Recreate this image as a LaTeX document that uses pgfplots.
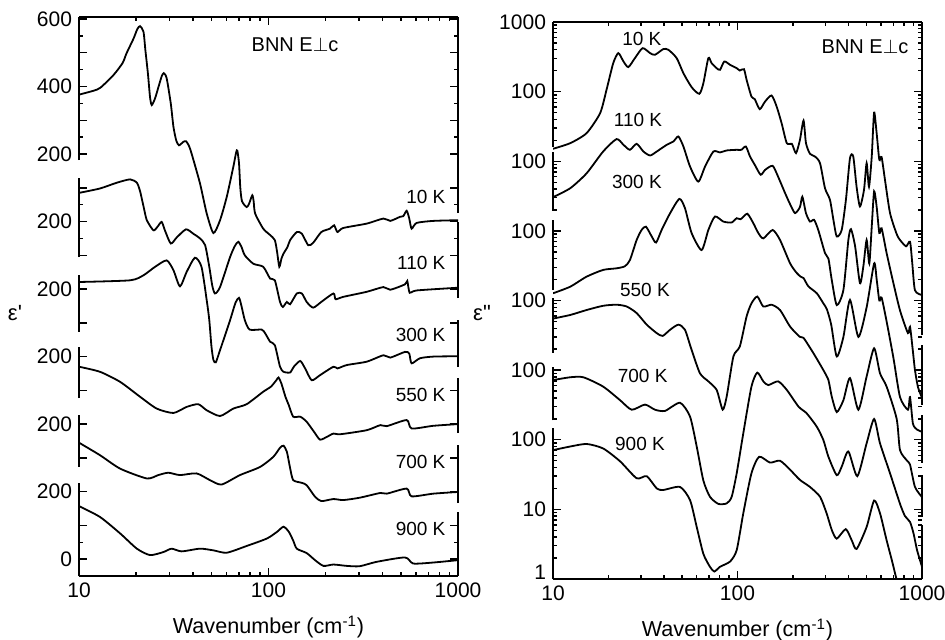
\documentclass[border=0pt]{standalone}
\usepackage{fontspec}
\setmainfont{Liberation Sans}
\usepackage{pgfplots}
\pgfplotsset{compat=1.18}
\newcommand{\vseg}[3]{\draw[line width=0.9pt] (axis cs:#1,#2) -- (axis cs:#1,#3);}
\newcommand{\hframe}{\draw[line width=0.9pt] (rel axis cs:0,0) -- (rel axis cs:1,0); \draw[line width=0.9pt] (rel axis cs:0,1) -- (rel axis cs:1,1);}
\begin{document}
\begin{tikzpicture}
\path[use as bounding box] (-39.5pt,-31.5pt) rectangle (433pt,288pt);
\pgfplotsset{
  every axis/.append style={
    scale only axis, xmode=log, xmin=10, xmax=1000,
    xtick={10,100,1000}, xticklabels={10,100,1000},
    minor xtick={20,30,40,50,60,70,80,90,200,300,400,500,600,700,800,900},
    major tick length=4pt, minor tick length=2pt,
    axis line style={draw=none},
    tick style={draw=black, line width=0.7pt},
    tick label style={font=\fontsize{10.5}{12}\selectfont},
    clip mode=individual,
    cycle list={{black}},
  },
  every axis plot/.append style={black, solid, mark=none, line width=0.9pt, smooth, tension=0.4},
}
% ---------------- left panel: eps' ----------------
\begin{axis}[at={(0pt,0pt)}, anchor=south west, width=189.5pt, height=279.5pt,
  ymin=-50, ymax=1606,
  ytick={0,100,...,1600}, yticklabels={0,,200,,200,,200,,200,,200,,200,,400,,600},
  minor ytick={50,950,1050,1250,1350,1450,1550}]
\hframe
\vseg{10}{1182}{1606}\vseg{10}{895}{1129}\vseg{10}{673}{841}\vseg{10}{477}{628}\vseg{10}{273}{427}\vseg{10}{-50}{225}
\vseg{1000}{1025}{1606}\vseg{1000}{773}{998}\vseg{1000}{569}{708}\vseg{1000}{373}{536}\vseg{1000}{166}{338}\vseg{1000}{-50}{139}
% 10 K (offset 1000)
\addplot table[y expr=\thisrowno{1}+1000] {
10 376
12 388
13 397
15.2 434
17 470
17.8 498
19.4 542
20.3 570
21 579
21.9 562
22.4 508
23.1 439
23.7 369
24.2 345
25.2 365
26.3 400
27.3 430
28 440
29 425
30.5 350
31.5 281
32.6 240
33.7 226
35.5 236
36.7 238
38 225
39.3 201
43.5 113
47.2 24
51.2 -34
55.5 4
60.2 73
65.2 162
67.5 205
68.5 210
69.9 172
71 100
72.5 60
76.7 43
79 53
82.1 78
83.5 60
85 24
93.8 -21
102 -40
108 -55
111 -90
114 -134
117 -110
120 -95
126 -75
130 -55
141 -31
150 -36
162 -70
172 -63
190 -31
211 -21
222 -11
231 -31
248 -19
330 -6
404 9
439 2
494 14
514 16
536 32
553 9
569 -21
605 -4
741 2
1000 4
};
% 110 K (offset 800)
\addplot table[y expr=\thisrowno{1}+800] {
10 285
12.9 298
15.8 315
18.6 325
20.2 315
21 290
22 240
22.8 204
24.7 174
25.9 184
27.3 199
28.4 174
30.5 135
32.8 153
36.7 177
40.1 164
43.5 150
46.3 130
48.7 66
50.5 10
52.2 -13
55.5 6
62.7 95
66.5 128
69.3 140
72 125
75 100
83.2 75
93.8 66
102 31
108 26
115 -38
119 -53
125 -38
130 -45
141 -13
150 -13
159 -38
172 -55
190 -38
220 -13
226 -30
248 -23
330 -8
404 6
439 -2
525 14
540 24
556 -11
605 -4
1000 4
};
% 300 K (offset 600)
\addplot table[y expr=\thisrowno{1}+600] {
10 221
18.6 226
21.9 241
25.2 266
29 285
31.5 256
34.1 208
37 251
40.9 293
44.3 266
47.2 167
48.7 108
50 30
51.2 -10
52.7 -17
55.5 19
62.7 108
67 160
69.9 174
72 150
75 108
79.5 80
92 80
96 69
102 44
108 34
115 -30
120 -45
130 -47
136 -30
147 -13
156 -35
169 -70
187 -55
220 -30
231 -35
259 -25
330 -15
404 4
439 -3
525 14
553 9
569 -20
629 -5
741 0
1000 1
};
% 550 K (offset 400)
\addplot table[y expr=\thisrowno{1}+400] {
10 170
12.9 155
16.5 125
21 81
25.7 46
31.5 33
37 51
42.6 59
47.2 41
55.5 24
65.2 46
76.7 59
93.8 96
103 111
110 130
113 138
117 120
123 80
128 56
135 22
147 22
159 7
175 -25
187 -46
203 -38
220 -28
239 -30
330 -18
389 -3
421 -6
536 12
569 -13
741 -5
1000 0
};
% 700 K (offset 200)
\addplot table[y expr=\thisrowno{1}+200] {
10 145
12.9 108
16.5 68
22.8 39
26.2 49
29.6 56
34.1 49
41.7 54
49.1 34
56.5 21
70.7 49
90.2 73
106 103
115 130
120 136
125 118
130 70
135 34
150 26
159 19
176 -15
190 -28
220 -22
248 -25
303 -18
389 -4
421 -6
536 9
569 -14
741 -6
1000 -1
};
% 900 K (offset 0)
\addplot table {
10 157
12.9 125
16.5 76
20.2 31
23.7 12
27.9 21
30.8 31
34.8 23
43.5 31
51.2 26
60.2 19
76.7 39
98 61
111 81
120 96
128 81
135 55
141 31
159 18
176 -3
195 -20
220 -16
259 -20
303 -21
372 -8
525 5
580 -13
741 -10
1000 -3
};
\begin{scope}[font=\fontsize{9.5}{11}\selectfont]
\node[anchor=east] at (axis cs:935,1073) {10 K};
\node[anchor=east] at (axis cs:935,877) {110 K};
\node[anchor=east] at (axis cs:935,664) {300 K};
\node[anchor=east] at (axis cs:935,486) {550 K};
\node[anchor=east] at (axis cs:935,287) {700 K};
\node[anchor=east] at (axis cs:935,89) {900 K};
\end{scope}
\node[font=\fontsize{10}{12}\selectfont] at (axis cs:138,1523) {BNN E$\perp$c};
\node[font=\fontsize{11}{13}\selectfont] at ({rel axis cs:0,0.4705}) [xshift=-32pt] {ε\textquotesingle};
\node[font=\fontsize{10.8}{13}\selectfont] at ({rel axis cs:0.5,0}) [yshift=-25.5pt] {Wavenumber (cm\textsuperscript{-1})};
\end{axis}
% ---------------- right panel: eps'' ----------------
\begin{axis}[at={(237pt,-1.5pt)}, anchor=south west, width=184.5pt, height=278.5pt,
  ymode=log, ymin=1, ymax=1e8,
  ytick={1,10,100,1000,10000,100000,1000000,10000000,100000000},
  yticklabels={\raisebox{7pt}{1},10,100,100,100,100,100,100,\raisebox{-3.5pt}{1000}},
  minor ytick={2,3,4,5,6,7,8,9,20,30,40,50,60,70,80,90,200,300,400,500,600,700,800,900,
    2000,3000,4000,5000,6000,7000,8000,9000,
    2e4,3e4,4e4,5e4,6e4,7e4,8e4,9e4,2e5,3e5,4e5,5e5,6e5,7e5,8e5,9e5,
    2e6,3e6,4e6,5e6,6e6,7e6,8e6,9e6,2e7,3e7,4e7,5e7,6e7,7e7,8e7,9e7}]
\hframe
\vseg{10}{1.62e6}{1e8}\vseg{10}{1.95e5}{1.38e6}\vseg{10}{1.41e4}{1.45e5}\vseg{10}{1778}{1.1e4}\vseg{10}{190}{1122}\vseg{10}{1}{148}
\vseg{1000}{3162}{1e8}\vseg{1000}{316}{2291}\vseg{1000}{46.8}{229}\vseg{1000}{7.76}{30.9}\vseg{1000}{1}{6.03}
% 10 K (x 1e5)
\addplot table[y expr=\thisrowno{1}*100000] {
10 15.1
12.4 18.2
15.2 25.3
18.0 49
19.5 106
21.2 256
22.6 357
24.1 271
25.6 225
27.8 303
30.6 421
33.6 357
35.7 338
39.6 408
42.2 399
46.8 303
50.9 184
56.4 116
62.1 93
65.3 132
69.5 303
72.4 256
77.1 217
80.4 206
84.8 271
91.1 243
99 217
103 201
108.4 210
112 148
119 85
124 78
132 56
141 72
153 88
163 61
173.5 35
185 18.2
197 17.8
207.5 13.1
218 20.3
228 38.5
235 18.2
247 12.8
263 11.7
280 9.4
298 4.1
317 2.8
331 1.44
345 0.83
367 1.03
387 2.8
407 11.1
424 11.7
442 4.3
461 2.24
485 3.9
501 9.4
516 4.3
534 11.7
550 50
568 25
587 10.5
604 11.5
630 5.4
671 1.8
729 0.9
760 0.74
820 0.6
861 0.70
885 0.35
916 0.14
1000 0.12
};
% 110 K (x 1e4)
\addplot table[y expr=\thisrowno{1}*10000] {
10 30.5
12.4 41
15.2 67
18.7 138
22.1 208
24.1 172
26.1 146
28.4 178
30.9 138
33.6 121
36.5 138
41.3 172
44.9 192
47.8 227
50.9 163
55.3 84
61.3 51
66.7 84
74 138
80.4 134
87.4 143
99 146
105 146
111 163
116.9 117
124 89
133.5 64
141 75
155 86
166 60
181 35
193 24
205 18
218 22
224.6 31
235 18
247 13.6
260 14.4
274 10.3
298 4.8
311 4.0
324 2.0
345 0.86
375 1.42
399 7.4
412 10.6
434 6.0
461 1.77
481 3.1
501 7.4
518 3.4
534 11.5
550 37
568 22
587 9.3
604 10.9
643 4.8
699 1.8
760 0.72
839 0.34
861 0.42
890 0.2
916 0.10
951 0.057
1000 0.04
};
% 300 K (x 1e3)
\addplot table[y expr=\thisrowno{1}*1000] {
10 12.7
12.4 15.8
15.2 22
18.7 27.5
22.1 29
24.5 31
26.1 38
28.4 74
30.2 103
31.9 115
34.3 83
36.2 68
38.8 103
43.1 179
48.4 288
51.9 212
56.4 93
63.9 53
69.5 103
75.5 161
83.8 136
93 132
99 152
104 147
113 176
121.8 129
129.7 93
138 78
155 103
170 74
193 34
209 25
220 22
228 21
242 16
269 12.7
292 9.1
305 7.5
322 4.5
345 1.57
375 3.0
407 10.2
452 3.0
501 8
550 34
568 20
587 10
604 11
643 5
700 1.5
760 0.41
839 0.27
861 0.41
893 0.17
940 0.14
1000 0.13
};
% 550 K (x 100)
\addplot table[y expr=\thisrowno{1}*100] {
10 55
12.4 62
15.2 73
18.7 84
22.1 87
25.1 82
28.4 66
32.2 45
36.5 34
39.3 31
43.1 38
47.8 45
51.9 38
56.4 19.5
62.6 9.0
69.5 6.9
77.1 5.2
83.1 2.7
87.4 4.2
95 15.7
103 22
112 59
119 91
128 114
138 82
153 87
170 73
193 42
218 30
228 29
258 17.5
292 10
311 7.2
324 4.2
345 2.5
375 3.7
407 7.7
452 2.7
501 8.1
550 20.6
592 9.0
643 5.8
729 2.0
760 0.71
830 0.5
861 0.44
916 0.21
1000 0.15
};
% 700 K (x 10)
\addplot table[y expr=\thisrowno{1}*10] {
10 72
12.4 79
14.6 79
18.7 58
23.1 37
26.7 27
31.5 32
35.7 27
40.5 26
48.8 34
55.3 21.5
60.1 8.0
65.3 2.6
70.9 1.52
78.7 1.20
87.4 1.22
93 1.52
99 3.3
107.5 12.4
119 58
128 92
138 69
147 61
166 69
185 52
214 30
237 24
269 15.4
292 9.9
311 5.7
345 3.1
367 4.1
399 6.8
446 3.0
501 8.9
550 19.9
592 8.9
671 3.3
760 1.2
809 0.8
861 0.66
900 0.45
940 0.26
1000 0.15
};
% 900 K
\addplot table {
10 71
12.4 80
15.2 87
18.7 75
23.1 49
28.4 28
32.2 30
36.5 20
39.6 19
48.8 21
55.3 13.6
60.1 5.6
65.3 2.3
70.9 1.5
74.9 1.28
80.4 1.5
91.1 1.78
99 2.6
107.5 8.8
119 33
131 57
150 47
170 50
193 37
218 26.5
247 21
280 15.2
304 8.8
324 5.1
345 3.8
386 5.2
416 3.6
442 2.7
501 5.6
550 13.4
592 8.8
643 3.6
685 1.9
729 0.97
792 0.40
};
\begin{scope}[font=\fontsize{9.5}{11}\selectfont]
\node at (axis cs:30.3,5.7e7) {10 K};
\node at (axis cs:28.9,3.9e6) {110 K};
\node at (axis cs:28.5,5.0e5) {300 K};
\node at (axis cs:31.5,1.42e4) {550 K};
\node at (axis cs:30.6,826) {700 K};
\node at (axis cs:29.6,87) {900 K};
\end{scope}
\node[font=\fontsize{10}{12}\selectfont] at (axis cs:491,4.4e7) {BNN E$\perp$c};
\node[font=\fontsize{11}{13}\selectfont] at ({rel axis cs:0,0.4776}) [xshift=-35.5pt] {ε\textquotedbl};
\node[font=\fontsize{10.8}{13}\selectfont] at ({rel axis cs:0.5,0}) [yshift=-25.5pt] {Wavenumber (cm\textsuperscript{-1})};
\end{axis}
\end{tikzpicture}
\end{document}
